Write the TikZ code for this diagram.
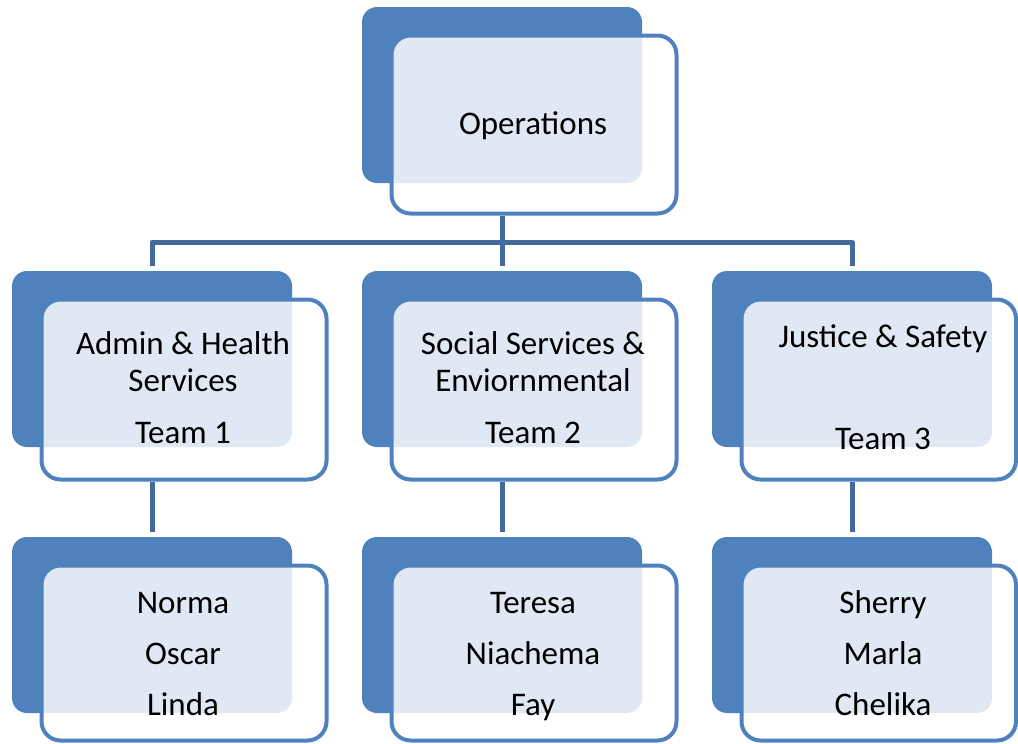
\documentclass[tikz,border=0pt]{standalone}
\usepackage{fontspec}
\setmainfont{Carlito}
\definecolor{backc}{HTML}{4F81BD}
\definecolor{framec}{HTML}{4F81BD}
\definecolor{shadec}{HTML}{E0E8F3}
\definecolor{connc}{HTML}{44699D}
\tikzset{
  backbox/.style={fill=backc, rounded corners=15pt},
  frontfill/.style={fill=white, rounded corners=19pt},
  shadefill/.style={fill=shadec, rounded corners=19pt},
  frontframe/.style={draw=framec, line width=4pt, rounded corners=19pt},
  conn/.style={draw=connc, line width=5pt, line join=round},
  txt/.style={anchor=base, inner sep=0pt, font=\fontsize{33}{40}\selectfont, text=black},
}
\newcommand\orgunit[5]{%
  \fill[backbox] (#2,#3) rectangle ++(280,176);
  \fill[frontfill] (#2+29.5,#3+28.5) rectangle (#4,#5);
  \begin{scope}
    \clip[rounded corners=15pt] (#2,#3) rectangle ++(280,176);
    \fill[shadefill] (#2+29.5,#3+28.5) rectangle (#4,#5);
  \end{scope}
  \draw[frontframe] (#2+29.5,#3+28.5) rectangle (#4,#5);
  \coordinate (#1-in) at (#2+140,#3-5);
  \coordinate (#1-out) at (#2+140,#5+2);
}
\begin{document}
\begin{tikzpicture}[x=1pt,y=-1pt]
\useasboundingbox (0,0) rectangle (1018,744);
% units
\orgunit{ops}{362}{7}{676.5}{213.5}
\orgunit{ta}{12}{271}{326.5}{479.5}
\orgunit{tb}{362}{271}{676.5}{479.5}
\orgunit{tc}{712}{271}{1016}{479.5}
\orgunit{ma}{12}{537}{326.5}{740.5}
\orgunit{mb}{362}{537}{676.5}{740.5}
\orgunit{mc}{712}{537}{1016}{740.5}
% connectors
\coordinate (bus) at (502,242);
\draw[conn] (ops-out) -- (bus);
\draw[conn] (ta-in) |- (bus);
\draw[conn] (tc-in) |- (bus);
\draw[conn] (bus) -- (tb-in);
\draw[conn] (ta-out) -- (ma-in);
\draw[conn] (tb-out) -- (mb-in);
\draw[conn] (tc-out) -- (mc-in);
% texts
\node[txt] (opsT) at (533,134) {Operations};
\node[txt] (taT1) at (183,354) {Admin \& Health};
\node[txt] (taT2) at (183,391) {Services};
\node[txt] (taT3) at (183,443) {Team 1};
\node[txt] (tbT1) at (533,354) {Social Services \&};
\node[txt] (tbT2) at (533,391) {Enviornmental};
\node[txt] (tbT3) at (533,443) {Team 2};
\node[txt] (tcT1) at (883,347) {Justice \& Safety};
\node[txt] (tcT3) at (883,449) {Team 3};
\node[txt] (maT1) at (183,613) {Norma};
\node[txt] (maT2) at (183,664) {Oscar};
\node[txt] (maT3) at (183,715) {Linda};
\node[txt] (mbT1) at (533,613) {Teresa};
\node[txt] (mbT2) at (533,664) {Niachema};
\node[txt] (mbT3) at (533,715) {Fay};
\node[txt] (mcT1) at (883,613) {Sherry};
\node[txt] (mcT2) at (883,664) {Marla};
\node[txt] (mcT3) at (883,715) {Chelika};
\end{tikzpicture}
\end{document}
